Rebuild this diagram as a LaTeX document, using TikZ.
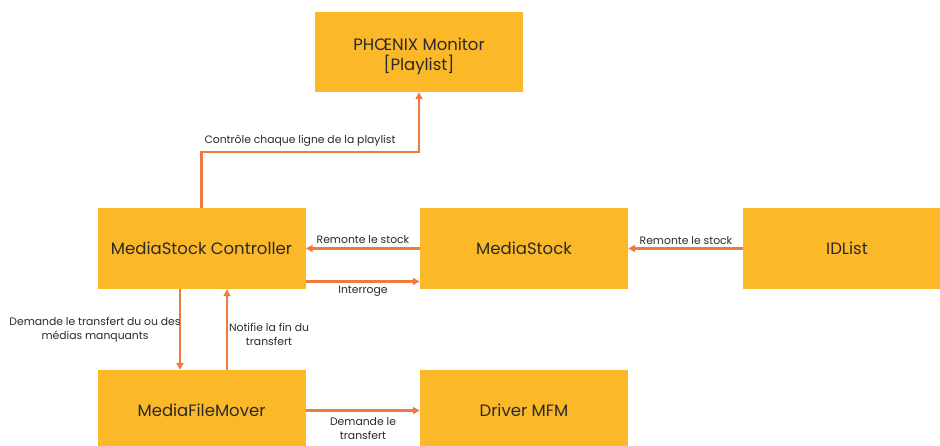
\documentclass[tikz,border=0pt]{standalone}
\usepackage{fontspec}
\setmainfont{Poppins}
\usetikzlibrary{arrows.meta}
\definecolor{boxfill}{HTML}{FBB829}
\definecolor{arr}{HTML}{EF7A3E}
\definecolor{txt}{HTML}{2A2A2A}
\begin{document}
\begin{tikzpicture}[x=1pt,y=-1pt,
 box/.style={fill=boxfill, draw=none, minimum width=208pt, minimum height=81pt, inner sep=0pt, text=txt, font=\fontsize{16.5}{20}\selectfont, align=center},
 conn/.style={draw=arr, line width=2.4pt, -{Triangle[length=7pt,width=7pt]}},
 lbl/.style={text=txt, font=\fontsize{10.8}{14}\selectfont, align=center, inner sep=0pt}]
\useasboundingbox (0,0) rectangle (940,445);
\node[box, minimum height=80pt] (ph) at (419,52) {};
\node[text=txt, font=\fontsize{16.5}{20}\selectfont, align=center, inner sep=0pt] (pht) at (419,56) {PHŒNIX Monitor\\{[Playlist]}};
\node[box] (msc) at (201.5,248.5) {MediaStock Controller};
\node[box] (ms) at (524,248.5) {MediaStock};
\node[box] (id) at (847,248.5) {IDList};
\node[box] (mfm) at (201.5,410.5) {MediaFileMover};
\node[box] (drv) at (524,410.5) {Driver MFM};
\draw[conn] (msc.north) -- ++(0,-56) coordinate (bend) -| (ph.south);
\node[lbl] (l1) at (300,141) {Contrôle chaque ligne de la playlist};
\draw[conn] (ms.west) -- (msc.east);
\node[lbl] (l2) at (363,239.5) {Remonte le stock};
\draw[conn] ([yshift=-33pt]msc.east) -- ([yshift=-33pt]ms.west);
\node[lbl] (l3) at (363,291) {Interroge};
\draw[conn] (id.west) -- (ms.east);
\node[lbl] (l4) at (686,240.5) {Remonte le stock};
\draw[conn] ([xshift=-21.5pt]msc.south) -- ([xshift=-21.5pt]mfm.north);
\node[lbl] (l5) at (95,330) {Demande le transfert du ou des\\médias manquants};
\draw[conn] ([xshift=25.5pt]mfm.north) -- ([xshift=25.5pt]msc.south);
\node[lbl] (l6) at (269,334) {Notifie la fin du\\transfert};
\draw[conn] (mfm.east) -- (drv.west);
\node[lbl] (l7) at (363,429) {Demande le\\transfert};
\end{tikzpicture}
\end{document}
